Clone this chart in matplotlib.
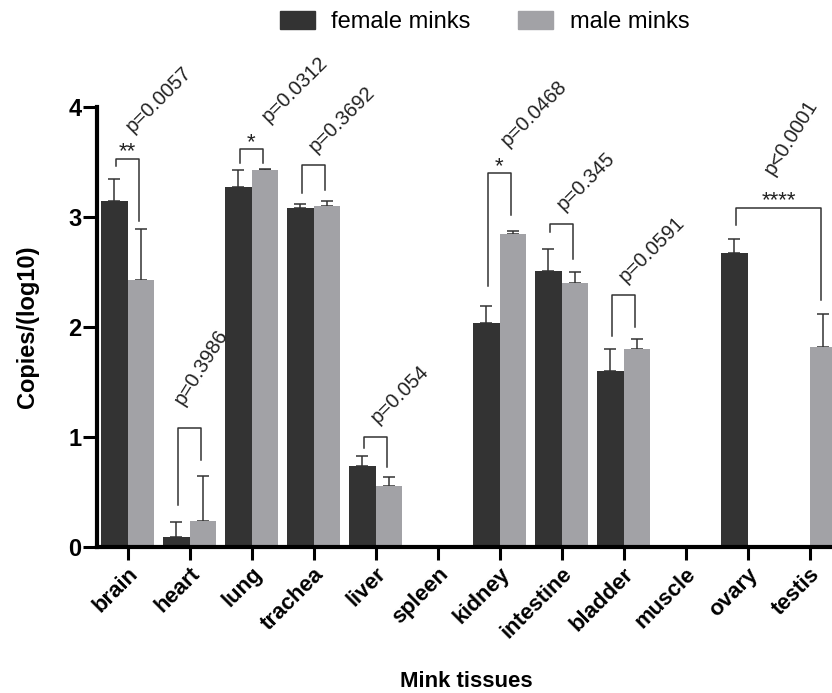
import numpy as np
import matplotlib
matplotlib.use("Agg")
import matplotlib.pyplot as plt
from matplotlib.patches import Patch
from matplotlib.transforms import ScaledTranslation

plt.rcParams['font.family'] = ['Liberation Sans', 'DejaVu Sans']

nan = np.nan

# tissues and mean copies (log10) with upper error bars
tissues = ['brain', 'heart', 'lung', 'trachea', 'liver', 'spleen',
           'kidney', 'intestine', 'bladder', 'muscle', 'ovary', 'testis']
female_mean = [3.15, 0.09, 3.275, 3.085, 0.74, nan, 2.04, 2.51, 1.60, nan, 2.675, nan]
female_err = [0.20, 0.14, 0.15, 0.03, 0.09, nan, 0.15, 0.20, 0.20, nan, 0.125, nan]
male_mean = [2.43, 0.24, 3.43, 3.10, 0.555, nan, 2.85, 2.40, 1.80, nan, nan, 1.815]
male_err = [0.46, 0.41, 0.01, 0.05, 0.085, nan, 0.025, 0.10, 0.09, nan, nan, 0.30]

# significance comparisons (female bar of cmp_left vs male bar of cmp_right)
cmp_left = [0, 1, 2, 3, 4, 6, 7, 8, 10]
cmp_right = [0, 1, 2, 3, 4, 6, 7, 8, 11]
cmp_top = [3.53, 1.085, 3.615, 3.47, 1.003, 3.40, 2.94, 2.29, 3.085]
cmp_left_end = [3.46, 0.38, 3.49, 3.22, 0.90, 2.37, 2.86, 1.92, 2.93]
cmp_right_end = [2.96, 0.79, 3.49, 3.245, 0.73, 3.02, 2.62, 2.00, 2.25]
p_labels = ['p=0.0057', 'p=0.3986', 'p=0.0312', 'p=0.3692', 'p=0.054',
            'p=0.0468', 'p=0.345', 'p=0.0591', 'p<0.0001']
stars = ['**', '', '*', '', '', '*', '', '', '****']

FEMALE = '#333333'
MALE = '#a2a2a6'
W, H = 832, 693

fig = plt.figure(figsize=(W / 100, H / 100), dpi=100)
ax = fig.add_axes([97 / W, 146 / H, (W - 97) / W, 440 / H])

x = np.arange(len(tissues))
bw = 0.42
off = 0.21
fm = np.array(female_mean)
mm = np.array(male_mean)
ax.bar(x - off, np.nan_to_num(fm), bw, color=FEMALE, zorder=2)
ax.bar(x + off, np.nan_to_num(mm), bw, color=MALE, zorder=2)

ekw = dict(fmt='none', ecolor='#333333', elinewidth=1.1, capsize=4, capthick=1.1, zorder=1)
ok = ~np.isnan(fm)
ax.errorbar(x[ok] - off, fm[ok], yerr=[np.zeros(ok.sum()), np.array(female_err)[ok]], **ekw)
ok = ~np.isnan(mm)
ax.errorbar(x[ok] + off, mm[ok], yerr=[np.zeros(ok.sum()), np.array(male_err)[ok]], **ekw)

# brackets with stars and p-values
leg = 0.19
for i in range(len(cmp_left)):
    x0 = cmp_left[i] - leg
    x1 = cmp_right[i] + leg
    ax.plot([x0, x0, x1, x1], [cmp_left_end[i], cmp_top[i], cmp_top[i], cmp_right_end[i]],
            color='#333333', lw=1.1, clip_on=False, zorder=3)
    xc = (x0 + x1) / 2
    if stars[i]:
        ax.text(xc, cmp_top[i] + 0.01, stars[i], ha='center', va='baseline',
                fontsize=16, color='#222222', clip_on=False)
    steep = i in (1, 8)
    angle = 58 if steep else 45
    if stars[i]:
        dx = {0: -0.04, 2: 0.14, 5: 0.0, 8: -0.25}[i]
        dy = 0.27 if i == 8 else 0.21
    else:
        dx = -0.27 if steep else -0.1
        dy = 0.175 if steep else 0.085
    dx += 0.22 if steep else 0.18
    ax.text(xc + dx, cmp_top[i] + dy, p_labels[i], rotation=angle, rotation_mode='anchor',
            ha='left', va='bottom', fontsize=14.5, color='#222222', clip_on=False)

ax.set_xlim(-0.492, (W - 127.5) / 62)
ax.set_ylim(0, 4)
ax.set_yticks([0, 1, 2, 3, 4])
ax.set_xticks(x)
ax.set_xticklabels(tissues, rotation=45, rotation_mode='anchor', ha='right', va='top',
                   fontsize=16, fontweight='bold')
for lab in ax.get_xticklabels():
    lab.set_transform(lab.get_transform() + ScaledTranslation(3 / 100, 0, fig.dpi_scale_trans))
for lab in ax.get_yticklabels():
    lab.set_fontweight('bold')
    lab.set_fontsize(17)

for s in ['top', 'right']:
    ax.spines[s].set_visible(False)
ax.spines['left'].set_linewidth(3)
ax.spines['bottom'].set_linewidth(3)
ax.spines['left'].set_bounds(0, 4)
ax.tick_params(axis='y', length=10, width=2.2, pad=1)
ax.tick_params(axis='x', length=9, width=2.2, pad=3)

fig.text(28 / W, 1 - 327 / H, 'Copies/(log10)', rotation=90, ha='center', va='center',
         fontsize=17, fontweight='bold')
fig.text(466.7 / W, 6.3 / H, 'Mink tissues', ha='center', va='baseline',
         fontsize=16, fontweight='bold')

handles = [Patch(color=FEMALE, label='female minks'), Patch(color=MALE, label='male minks')]
fig.legend(handles=handles, loc='center left', bbox_to_anchor=(280 / W, 1 - 22 / H),
           ncol=2, frameon=False, fontsize=17, borderpad=0, borderaxespad=0,
           handlelength=1.48, handleheight=0.8, handletextpad=0.7, columnspacing=2.0)

fig.savefig('out.png', dpi=100)
